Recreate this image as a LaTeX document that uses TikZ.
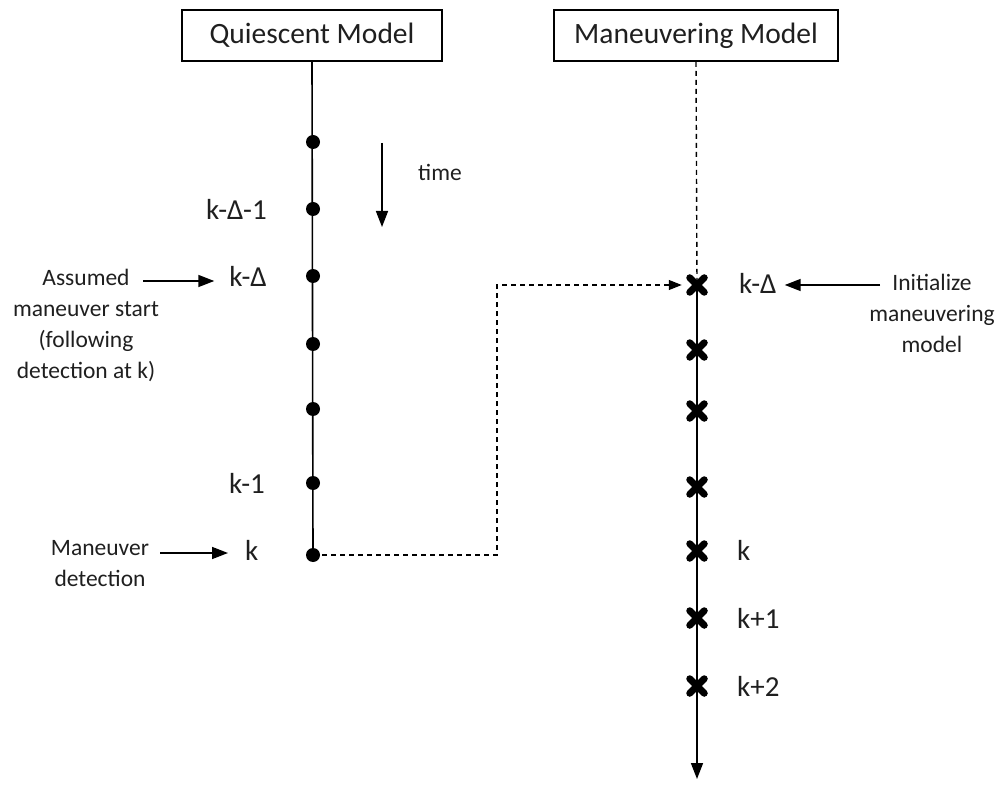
\documentclass[tikz,border=0pt]{standalone}
\usepackage{fontspec}
\setmainfont{Carlito}
\usetikzlibrary{arrows.meta,shapes.misc}
\begin{document}
\begin{tikzpicture}[x=1pt,y=-1pt,
  hdr/.style={draw,line width=1.6pt,minimum width=260pt,minimum height=51pt,inner sep=0pt,font=\fontsize{29.5}{34}\selectfont,text=black!88},
  dotmark/.style={circle,fill=black,inner sep=0pt,minimum size=14pt},
  xmk/.style={cross out,draw=black,line width=7pt,line cap=round,inner sep=0pt,minimum size=14.5pt,outer sep=0pt},
  lbl/.style={font=\fontsize{29}{31}\selectfont,text=black!88,inner sep=0pt},
  note/.style={font=\fontsize{23.5}{31}\selectfont,align=center,text=black!88},
  axis/.style={line width=1.6pt},
  dline/.style={line width=1.4pt,dash pattern=on 5pt off 4pt},
  arr/.style={line width=1.6pt,-{Triangle[length=16pt,width=12pt]}}
]
\useasboundingbox (0,0) rectangle (1004,786);
% headers
\node[hdr] (qm) at (312,35.5) {Quiescent Model};
\node[hdr,minimum width=284pt] (mm) at (696,35.5) {Maneuvering Model};
% quiescent axis and dots
\node[dotmark] (q1) at (313,142) {};
\node[dotmark] (q2) at (313,209) {};
\node[dotmark] (q3) at (313,276) {};
\node[dotmark] (q4) at (313,344) {};
\node[dotmark] (q5) at (313,409) {};
\node[dotmark] (q6) at (313,483) {};
\node[dotmark] (q7) at (313,555) {};
\draw[axis] (qm.south) -- (q7.center);
% maneuvering axis and crosses
\coordinate (mend) at (697,779);
\draw[dline] (mm.south) -- (697,285);
\draw[arr] (697,285) -- (mend);
\node[xmk] (m1) at (697,285) {};
\node[xmk] (m2) at (697,350) {};
\node[xmk] (m3) at (697,411) {};
\node[xmk] (m4) at (697,487) {};
\node[xmk] (m5) at (697,551) {};
\node[xmk] (m6) at (697,618) {};
\node[xmk] (m7) at (697,686) {};
% dashed connector
\coordinate (bend) at (497,555);
\draw[dline,-{Triangle[length=13pt,width=10pt]},shorten >=8pt] (q7.center) -- (bend) |- (m1.west);
% left labels
\node[lbl,anchor=east] (lkd1) at (267,209) {k-Δ-1};
\node[lbl,anchor=east] (lkd) at (267,276) {k-Δ};
\node[lbl,anchor=east] (lk1) at (265,483) {k-1};
\node[lbl,anchor=west] (lk) at (245,550) {k};
% right labels
\node[lbl,anchor=west] (rkd) at (739,283) {k-Δ};
\node[lbl,anchor=west] (rk) at (737,550) {k};
\node[lbl,anchor=west] (rk1) at (737,618) {k+1};
\node[lbl,anchor=west] (rk2) at (737,686) {k+2};
% time arrow
\coordinate (t1) at (382,143);
\coordinate (t2) at (382,227);
\draw[arr] (t1) -- (t2);
\node[note] (time) at (440,172) {time};
% notes
\node[note,anchor=north] (assumed) at (86,266) {Assumed\\maneuver start\\(following\\detection at k)};
\coordinate (a1) at (143,281);
\draw[arr,shorten >=15pt] (a1) -- (lkd.west |- a1);
\node[note,anchor=north] (detect) at (100,537) {Maneuver\\detection};
\coordinate (d1) at (160,553);
\draw[arr,shorten >=17pt] (d1) -- (lk.west |- d1);
\node[note,anchor=north] (init) at (932,271) {Initialize\\maneuvering\\model};
\coordinate (i1) at (880,285);
\draw[arr,shorten >=8pt] (i1) -- (rkd.east |- i1);
\end{tikzpicture}
\end{document}
